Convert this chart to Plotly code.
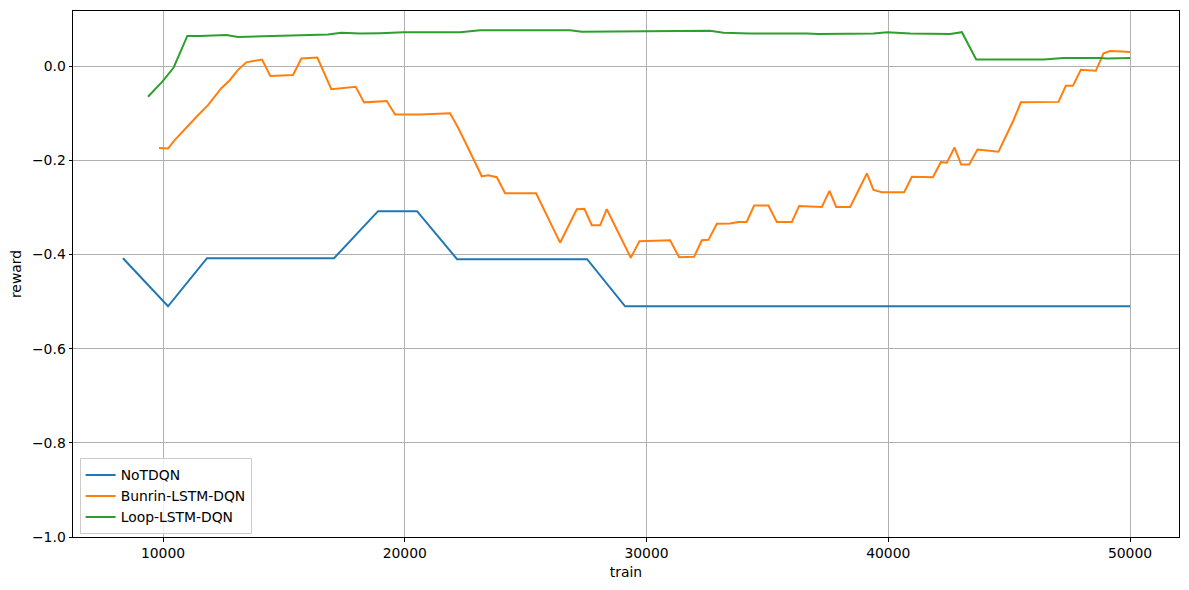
import plotly.graph_objects as go

# NoTDQN
notdqn_x = [8345, 10207, 11820, 17075, 18896, 20509, 22164, 27543, 29115, 50000]
notdqn_y = [-0.408, -0.510, -0.408, -0.408, -0.308, -0.308, -0.410, -0.410, -0.510, -0.510]

# Bunrin-LSTM-DQN
bunrin_x = [9834, 10207, 10483, 10898, 11379, 11862, 12206, 12413, 12760, 13103,
            13447, 14096, 14440, 15379, 15722, 16384, 16963, 17378, 17972, 18316,
            18689, 19255, 19599, 20634, 21875, 22218, 22565, 23186, 23459, 23807,
            24150, 25433, 26426, 26770, 27117, 27432, 27737, 28081, 28357, 29350,
            29707, 30977, 31350, 31970, 32289, 32563, 32911, 33459, 33804, 34142,
            34452, 35044, 35391, 36012, 36315, 37253, 37569, 37846, 38425, 39116,
            39390, 39736, 40659, 40977, 41845, 42177, 42425, 42741, 43017, 43348,
            43692, 44560, 45181, 45486, 47042, 47346, 47636, 47967, 48587, 48904,
            49180, 49664, 50000]
bunrin_y = [-0.174, -0.175, -0.157, -0.134, -0.108, -0.083, -0.062, -0.047, -0.030, -0.008,
            0.008, 0.014, -0.021, -0.019, 0.016, 0.018, -0.049, -0.047, -0.044, -0.077,
            -0.076, -0.074, -0.103, -0.103, -0.100, -0.132, -0.168, -0.234, -0.232, -0.236,
            -0.270, -0.270, -0.375, -0.341, -0.304, -0.303, -0.338, -0.338, -0.304, -0.407,
            -0.372, -0.370, -0.406, -0.405, -0.370, -0.369, -0.335, -0.334, -0.331, -0.331,
            -0.296, -0.296, -0.331, -0.331, -0.297, -0.299, -0.265, -0.299, -0.299, -0.228,
            -0.263, -0.268, -0.268, -0.235, -0.236, -0.204, -0.205, -0.173, -0.209, -0.209,
            -0.177, -0.182, -0.115, -0.077, -0.076, -0.042, -0.042, -0.008, -0.010, 0.027,
            0.032, 0.031, 0.030]

# Loop-LSTM-DQN
loop_x = [9379, 9971, 10442, 11006, 11517, 12620, 13103, 14551, 15929, 16827,
          17378, 18151, 18978, 19943, 22288, 23116, 26840, 27323, 29977, 32631,
          33183, 34287, 36632, 37100, 39389, 39964, 40905, 42562, 43046, 43638,
          46424, 47251, 48769, 49045, 50000]
loop_y = [-0.065, -0.033, -0.003, 0.064, 0.064, 0.066, 0.062, 0.064, 0.066, 0.067,
          0.071, 0.069, 0.070, 0.072, 0.072, 0.076, 0.076, 0.073, 0.074, 0.075,
          0.071, 0.069, 0.069, 0.068, 0.069, 0.072, 0.069, 0.068, 0.072, 0.014,
          0.014, 0.017, 0.017, 0.016, 0.017]

x_ticks = [10000, 20000, 30000, 40000, 50000]
y_ticks = [-1.0, -0.8, -0.6, -0.4, -0.2, 0.0]

fig = go.Figure()
for name, xs, ys, color in [
    ("NoTDQN", notdqn_x, notdqn_y, "#1f77b4"),
    ("Bunrin-LSTM-DQN", bunrin_x, bunrin_y, "#ff7f0e"),
    ("Loop-LSTM-DQN", loop_x, loop_y, "#2ca02c"),
]:
    fig.add_trace(go.Scatter(x=xs, y=ys, mode="lines", name=name,
                             line=dict(color=color, width=2)))

axis_style = dict(
    showline=True, linecolor="black", linewidth=1, mirror=True,
    showgrid=True, gridcolor="#b0b0b0", gridwidth=0.8, zeroline=False,
    ticks="outside", ticklen=3.5, tickwidth=0.8, tickcolor="black",
    tickfont=dict(size=13.9, color="black"), automargin=False,
)
fig.update_xaxes(range=[6277, 52027], tickvals=x_ticks,
                 ticktext=[str(t) for t in x_ticks],
                 title=dict(text="train", font=dict(size=13.9, color="black"), standoff=7),
                 **axis_style)
fig.update_yaxes(range=[-1.0, 0.117], tickvals=y_ticks,
                 tickformat=".1f",
                 title=dict(text="reward", font=dict(size=13.9, color="black"), standoff=7),
                 **axis_style)

# page body has an 8px margin, so the figure is sized to fit inside the window
fig.update_layout(
    width=1181, height=582, autosize=False,
    margin=dict(l=65, r=10, t=3, b=53),
    plot_bgcolor="white", paper_bgcolor="white",
    font=dict(family="DejaVu Sans", size=13.9, color="black"),
    legend=dict(x=0.006, y=0.005, xanchor="left", yanchor="bottom",
                bgcolor="rgba(255,255,255,0.8)", bordercolor="#cccccc", borderwidth=1,
                font=dict(size=13.9), tracegroupgap=0),
)

fig.write_html("out.html")
